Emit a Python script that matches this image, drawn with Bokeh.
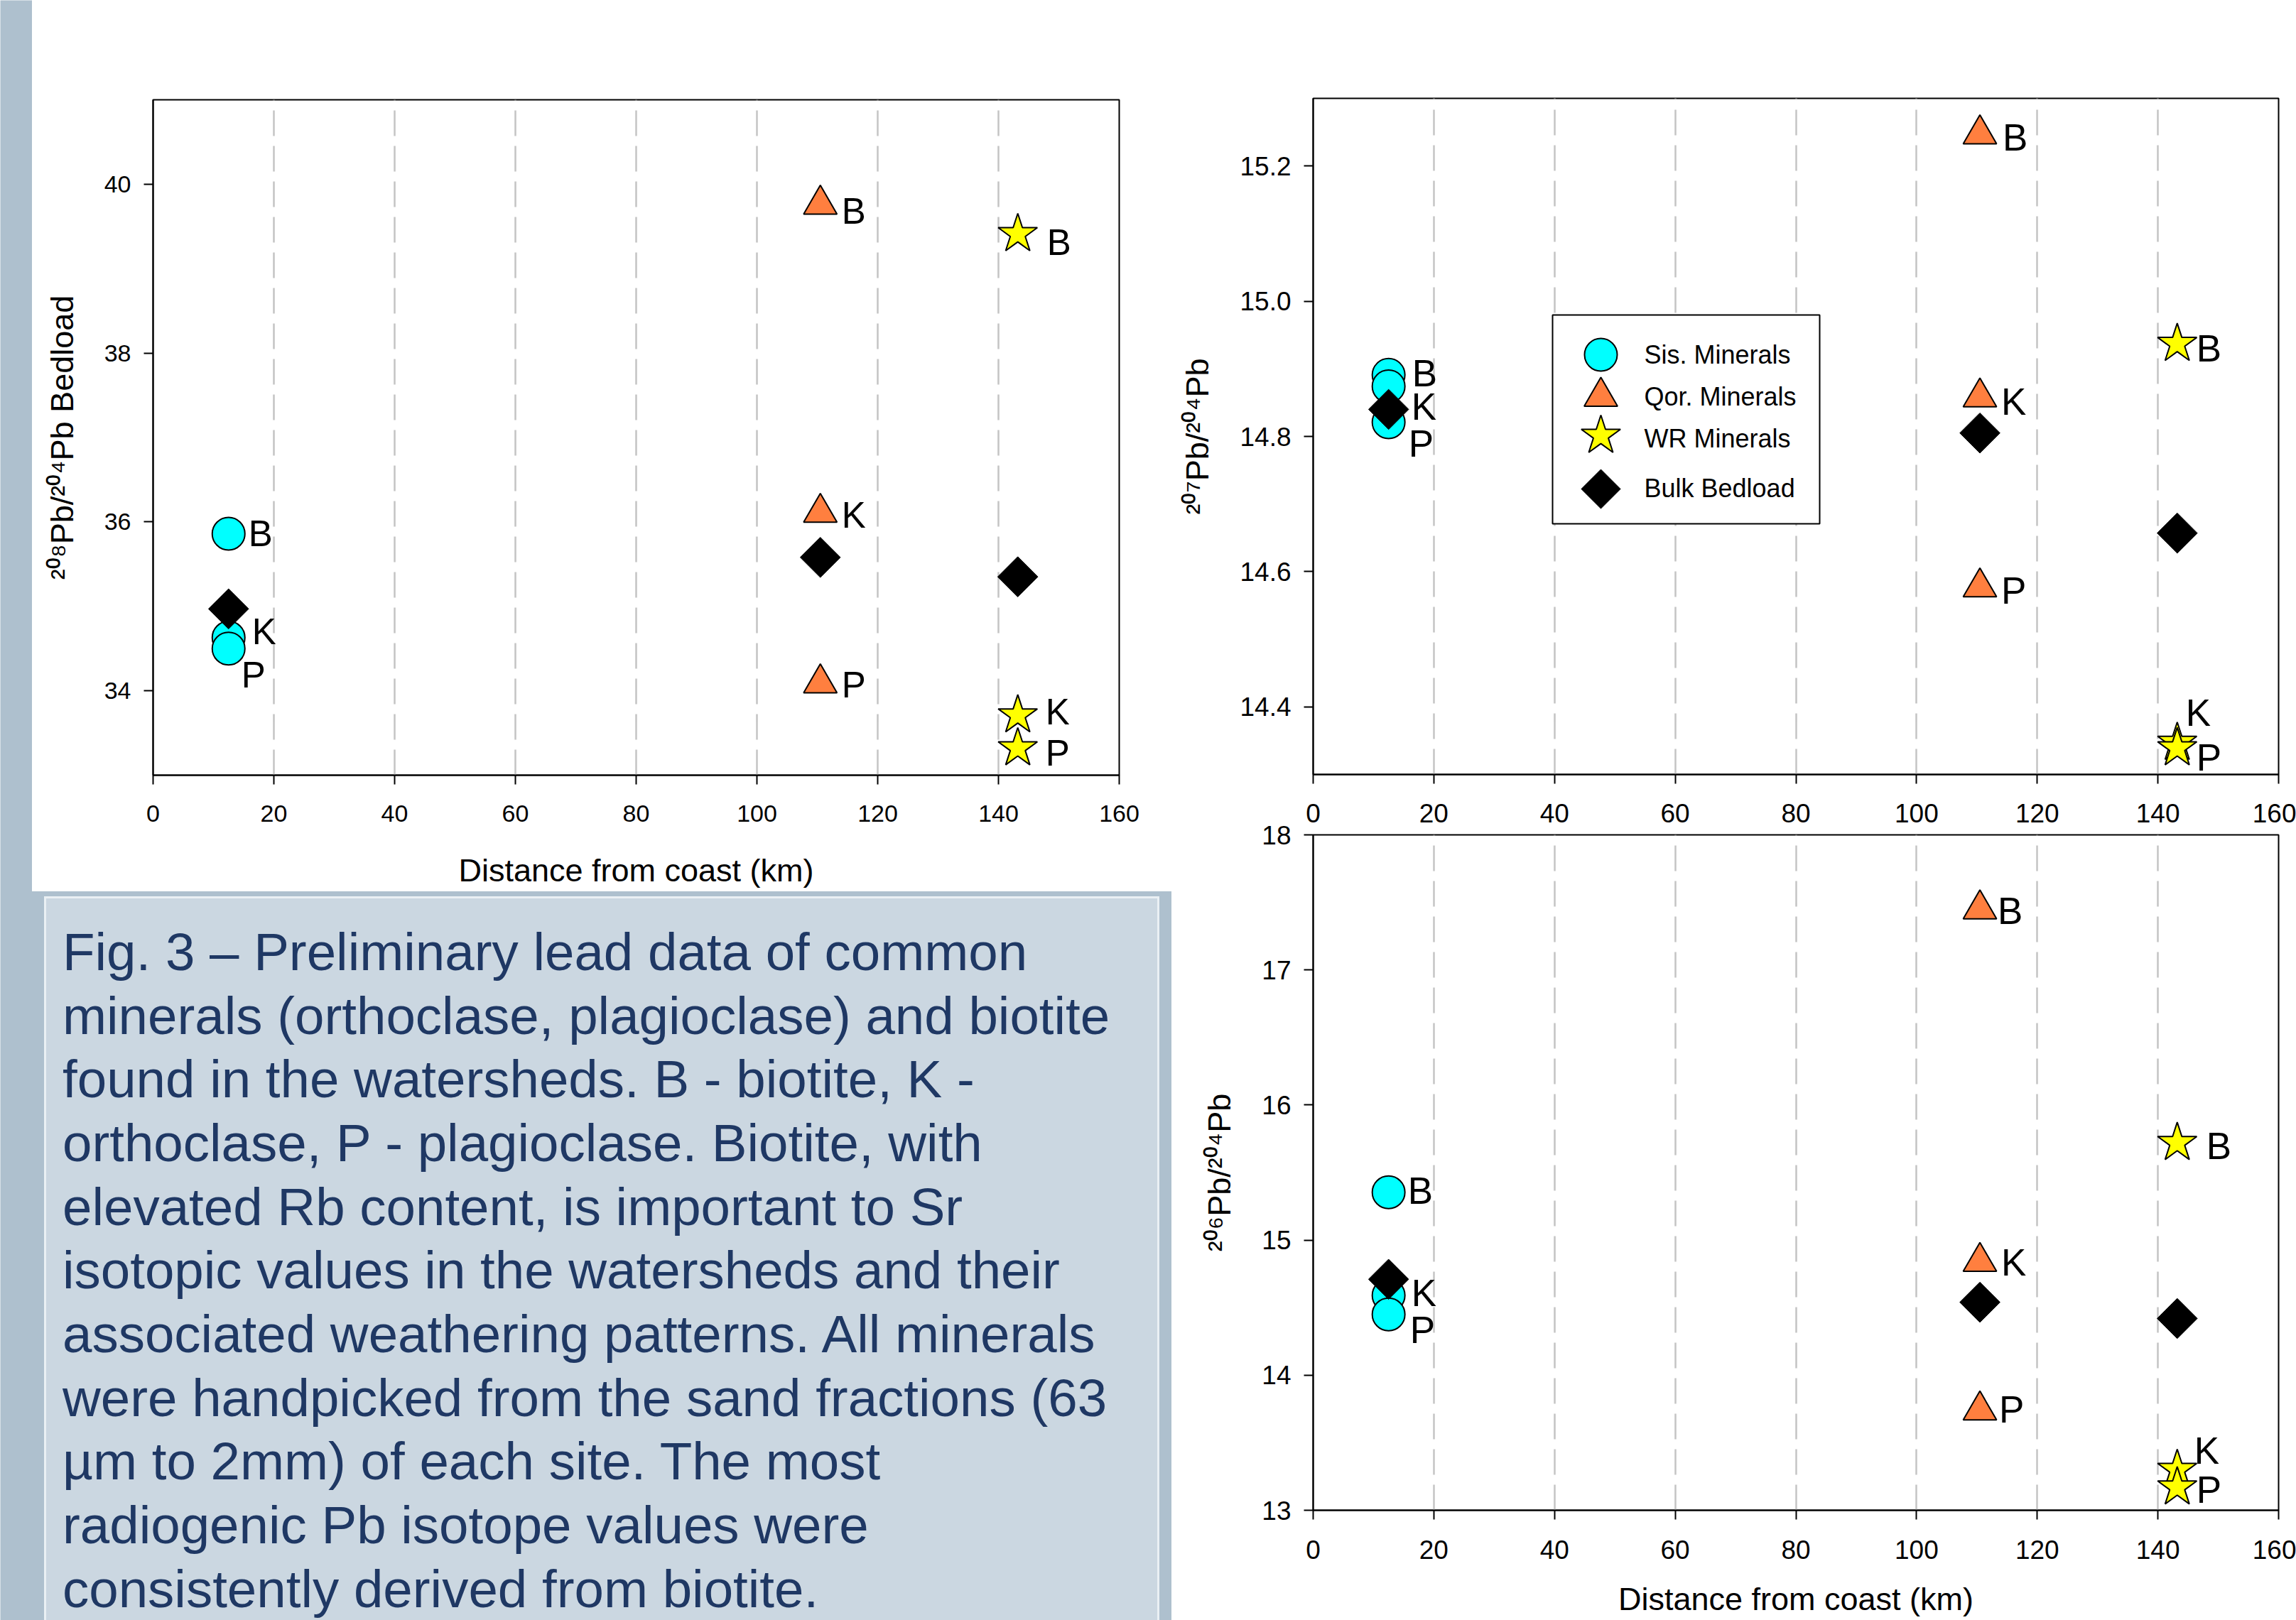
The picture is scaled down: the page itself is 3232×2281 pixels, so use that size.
import html
from bokeh.plotting import figure
from bokeh.layouts import row, column
from bokeh.models import (Range1d, FixedTicker, PrintfTickFormatter, ColumnDataSource, Div,
                          LinearAxis)
from bokeh.embed import file_html
from bokeh.resources import INLINE
from bokeh.core.properties import value

FONT = "Liberation Sans"

# ---------------- data ----------------
minerals = ["B", "K", "P"]
sis_km = 12.5      # Sis. site distance from coast (km)
qor_km = 110.5     # Qor. site
wr_km = 143.2      # WR site
bulk_km = [12.5, 110.5, 143.2]
x_ticks = [0, 20, 40, 60, 80, 100, 120, 140, 160]
grid_ticks = [20, 40, 60, 80, 100, 120, 140]

# 208Pb/204Pb
sis_208 = [35.86, 34.63, 34.50]
qor_208 = [39.76, 36.11, 34.09]
wr_208 = [39.41, 33.71, 33.32]
bulk_208 = [34.97, 35.58, 35.35]
ticks_208 = [34, 36, 38, 40]

# 207Pb/204Pb
sis_207 = [14.891, 14.874, 14.821]
qor_207 = [15.247, 14.858, 14.577]
wr_207 = [14.937, 14.347, 14.339]
bulk_207 = [14.840, 14.805, 14.657]
ticks_207 = [14.4, 14.6, 14.8, 15.0, 15.2]

# 206Pb/204Pb
sis_206 = [15.354, 14.59, 14.45]
qor_206 = [17.45, 14.84, 13.74]
wr_206 = [15.72, 13.30, 13.17]
bulk_206 = [14.71, 14.54, 14.42]
ticks_206 = [13, 14, 15, 16, 17, 18]

legend_labels = ["Sis. Minerals", "Qor. Minerals", "WR Minerals", "Bulk Bedload"]

caption_lines = [
    "Fig. 3 \u2013 Preliminary lead data of common",
    "minerals (orthoclase, plagioclase) and biotite",
    "found in the watersheds. B - biotite, K -",
    "orthoclase, P - plagioclase. Biotite, with",
    "elevated Rb content, is important to Sr",
    "isotopic values in the watersheds and their",
    "associated weathering patterns. All minerals",
    "were handpicked from the sand fractions (63",
    "\u00b5m to 2mm) of each site. The most",
    "radiogenic Pb isotope values were",
    "consistently derived from biotite.",
]

# ---------------- styles ----------------
SIS_COLOR = "#00ffff"
QOR_COLOR = "#ff7f3f"
WR_COLOR = "#ffff00"
BULK_COLOR = "#000000"
STRIP_COLOR = "#aec0ce"
CAPTION_BG = "#cbd7e1"
CAPTION_TEXT = "#1f3864"

# label pixel offsets (dx, dy) per panel, per series (B, K, P)
off_208 = {"sis": [(28, 0), (33, -8), (18, 37)],
           "qor": [(30, 10), (30, 4), (30, 3)],
           "wr": [(41, 12), (39, -5), (39, 7)]}
off_207 = {"sis": [(33, -2), (32, 28), (28, 30)],
           "qor": [(32, 5), (30, 6), (30, 5)],
           "wr": [(27, 6), (12, -42), (27, 13)]}
off_206 = {"sis": [(27, -2), (32, -4), (30, 22)],
           "qor": [(25, 2), (30, 1), (27, -1)],
           "wr": [(41, 4), (24, -27), (27, 3)]}


def style_axis(ax, tick_px, label_standoff, title_standoff, title_px):
    ax.axis_line_width = 2
    ax.axis_line_color = "black"
    ax.major_tick_line_width = 2
    ax.major_tick_line_color = "black"
    ax.major_tick_out = 13
    ax.major_tick_in = 0
    ax.minor_tick_line_color = None
    ax.major_label_text_font = FONT
    ax.major_label_text_font_size = f"{tick_px}px"
    ax.major_label_text_color = "black"
    ax.major_label_standoff = label_standoff
    ax.axis_label_text_font = FONT
    ax.axis_label_text_font_size = f"{title_px}px"
    ax.axis_label_text_font_style = "normal"
    ax.axis_label_text_color = "black"
    ax.axis_label_standoff = title_standoff


def panel(w, h, mb, yr, yticks, ytitle, sis, qor, wr, bulk, offs, tick_px, lab_px,
          xtitle=None, yfmt=None, x_labels=True, xtitle_standoff=40):
    p = figure(width=w, height=h, x_range=Range1d(0, 160), y_range=Range1d(*yr),
               output_backend="svg", toolbar_location=None,
               min_border_left=mb[0], min_border_right=mb[1],
               min_border_top=mb[2], min_border_bottom=mb[3],
               background_fill_color="white", border_fill_color="white")
    p.outline_line_color = "black"
    p.outline_line_width = 2
    p.xaxis.ticker = FixedTicker(ticks=x_ticks)
    p.yaxis.ticker = FixedTicker(ticks=yticks)
    if yfmt:
        p.yaxis.formatter = PrintfTickFormatter(format=yfmt)
    style_axis(p.xaxis[0], tick_px, 29, xtitle_standoff, 45)
    style_axis(p.yaxis[0], tick_px, 18, 31, 45)
    if not x_labels:
        # tick labels for this axis are shown by the panel below
        p.xaxis.major_label_overrides = {t: "" for t in x_ticks}
        p.xaxis.major_label_text_font_size = "1px"
        p.xaxis.major_label_standoff = 0
    p.xaxis.axis_label = xtitle
    p.yaxis.axis_label = ytitle
    p.xgrid.ticker = FixedTicker(ticks=grid_ticks)
    p.xgrid.grid_line_color = "#c4c4c4"
    p.xgrid.grid_line_width = 2.5
    p.xgrid.grid_line_dash = "36 14"
    p.ygrid.visible = False

    p.scatter([sis_km] * 3, sis, marker="circle", size=46, fill_color=SIS_COLOR,
              line_color="black", line_width=2)
    p.scatter([qor_km] * 3, qor, marker="triangle", size=47, fill_color=QOR_COLOR,
              line_color="black", line_width=2)
    p.scatter([wr_km] * 3, wr, marker="star", size=58, fill_color=WR_COLOR,
              line_color="black", line_width=2)
    p.scatter(bulk_km, bulk, marker="square", angle=0.785398, size=40,
              fill_color=BULK_COLOR, line_color="black", line_width=1)

    xs, ys, ts, dx, dy = [], [], [], [], []
    for key, xv, vals in (("sis", sis_km, sis), ("qor", qor_km, qor), ("wr", wr_km, wr)):
        for m, v, (ox, oy) in zip(minerals, vals, offs[key]):
            xs.append(xv); ys.append(v); ts.append(m); dx.append(ox); dy.append(oy)
    src = ColumnDataSource(dict(x=xs, y=ys, t=ts, dx=dx, dy=dy))
    p.text(x="x", y="y", text="t", x_offset="dx", y_offset="dy", source=src,
           text_font=value(FONT), text_font_size=f"{lab_px}px",
           text_baseline="middle", text_align="left", text_color="black")
    return p


# left panel: 208
p208 = panel(1604, 1255, (170, 74, 140, 164), (33, 41), ticks_208,
             "\u00b2\u2070\u2078Pb/\u00b2\u2070\u2074Pb Bedload",
             sis_208, qor_208, wr_208, bulk_208, off_208, 34, 51,
             xtitle="Distance from coast (km)")

# top right: 207
TR_W, TR_H, TR_MB = 1583, 1104, (199, 25, 138, 14)
p207 = panel(TR_W, TR_H, TR_MB, (14.3, 15.3), ticks_207,
             "\u00b2\u2070\u2077Pb/\u00b2\u2070\u2074Pb",
             sis_207, qor_207, wr_207, bulk_207, off_207, 37, 53, yfmt="%.1f",
             x_labels=False)

# legend drawn in frame-pixel coordinates of the 207 panel
fw = TR_W - TR_MB[0] - TR_MB[1]
fh = TR_H - TR_MB[2] - TR_MB[3]
p207.extra_x_ranges = {"px": Range1d(0, fw)}
p207.extra_y_ranges = {"px": Range1d(fh, 0)}
lg_left, lg_right, lg_top, lg_bottom = 337, 713, 305, 599
p207.quad(left=[lg_left], right=[lg_right], top=[lg_top], bottom=[lg_bottom],
          fill_color="white", line_color="black", line_width=2,
          x_range_name="px", y_range_name="px")
lg_mx = 405
lg_my = [361, 420, 475, 550]
lg_specs = [("circle", 46, SIS_COLOR, 0.0, 2), ("triangle", 47, QOR_COLOR, 0.0, 2),
            ("star", 58, WR_COLOR, 0.0, 2), ("square", 39, BULK_COLOR, 0.785398, 1)]
for (mk, sz, col, ang, lw), yy in zip(lg_specs, lg_my):
    p207.scatter([lg_mx], [yy], marker=mk, size=sz, angle=ang, fill_color=col,
                 line_color="black", line_width=lw, x_range_name="px", y_range_name="px")
p207.text(x=[466] * 4, y=[361, 420, 479, 549], text=legend_labels,
          text_font=value(FONT), text_font_size="36px", text_baseline="middle",
          text_align="left", text_color="black", x_range_name="px", y_range_name="px")

# bottom right: 206
p206 = panel(1583, 1177, (199, 25, 71, 155), (13, 18), ticks_206,
             "\u00b2\u2070\u2076Pb/\u00b2\u2070\u2074Pb",
             sis_206, qor_206, wr_206, bulk_206, off_206, 37, 53,
             xtitle="Distance from coast (km)", xtitle_standoff=28)

# distance tick labels of the 207 panel, drawn just above the 206 panel
top_labels = LinearAxis(ticker=FixedTicker(ticks=x_ticks))
top_labels.axis_line_color = None
top_labels.major_tick_line_color = None
top_labels.minor_tick_line_color = None
top_labels.major_tick_out = 0
top_labels.major_tick_in = 0
top_labels.major_label_standoff = 18
top_labels.major_label_text_font = FONT
top_labels.major_label_text_font_size = "37px"
top_labels.major_label_text_color = "black"
p206.add_layout(top_labels, "above")

# caption box (HTML text)
cap_inner = "<br>".join(html.escape(line) for line in caption_lines)
cap_html = (
    '<div style="position:absolute; left:17px; top:7px; width:1570px; height:1019px; '
    'box-sizing:border-box; background:%s; border:3px solid #eaf0f4; border-bottom:none; '
    'padding:31px 0 0 23px; font-family:\'Liberation Sans\', Arial, sans-serif; '
    'font-size:74.5px; line-height:89.66px; color:%s; white-space:nowrap; overflow:hidden;">'
    '%s</div>' % (CAPTION_BG, CAPTION_TEXT, cap_inner)
)
cap = Div(text=cap_html, width=1604, height=1026, margin=0,
          styles={"background-color": STRIP_COLOR, "position": "relative",
                  "overflow": "hidden"})

# left decorative strip
strip = figure(width=45, height=2281, x_range=Range1d(0, 1), y_range=Range1d(0, 1),
               output_backend="svg", toolbar_location=None,
               x_axis_type=None, y_axis_type=None, min_border=0,
               background_fill_color=STRIP_COLOR, border_fill_color=STRIP_COLOR)
strip.grid.visible = False
strip.outline_line_color = None

layout = row(strip, column(p208, cap), column(p207, p206))

open("out.html", "w").write(file_html(layout, INLINE))
